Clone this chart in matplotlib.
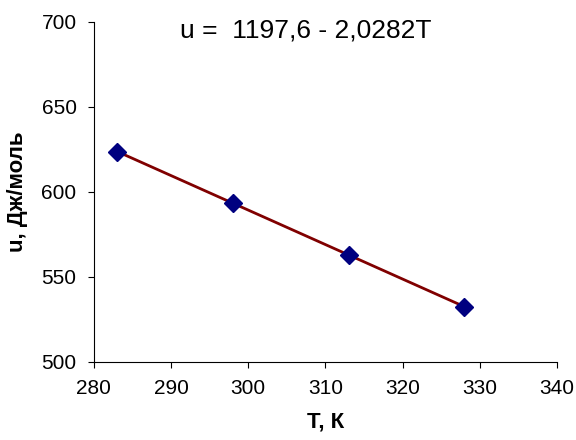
import matplotlib.pyplot as plt
import numpy as np

plt.rcParams['font.family'] = ['Liberation Sans', 'DejaVu Sans']

# data
T = [283, 298, 313, 328]
u = [623.5, 593.2, 562.5, 532.3]
a, b = 1197.6, -2.0282

fig = plt.figure(figsize=(5.76, 4.4), dpi=100)
ax = fig.add_axes([0.163, 0.178, 0.804, 0.773])

T_fit = np.array([T[0], T[-1]])
ax.plot(T_fit, a + b * T_fit, color='#800000', lw=2, zorder=2)
ax.plot(T, u, linestyle='none', marker='D', markersize=9,
        color='#000080', zorder=3)

ax.set_xlim(280, 340)
ax.set_ylim(500, 700)
ax.set_xticks(np.arange(280, 341, 10))
ax.set_yticks(np.arange(500, 701, 50))
for s in ['top', 'right']:
    ax.spines[s].set_visible(False)
ax.tick_params(direction='out', length=4.5, labelsize=15, pad=8)

ax.set_xlabel('Т, К', fontsize=16, fontweight='bold', labelpad=10)
ax.set_ylabel('u, Дж/моль', fontsize=16, fontweight='bold', labelpad=10)
ax.text(0.186, 0.952, 'u =  1197,6 - 2,0282T', transform=ax.transAxes,
        fontsize=19, ha='left', va='baseline')

plt.savefig('out.png', dpi=100)
